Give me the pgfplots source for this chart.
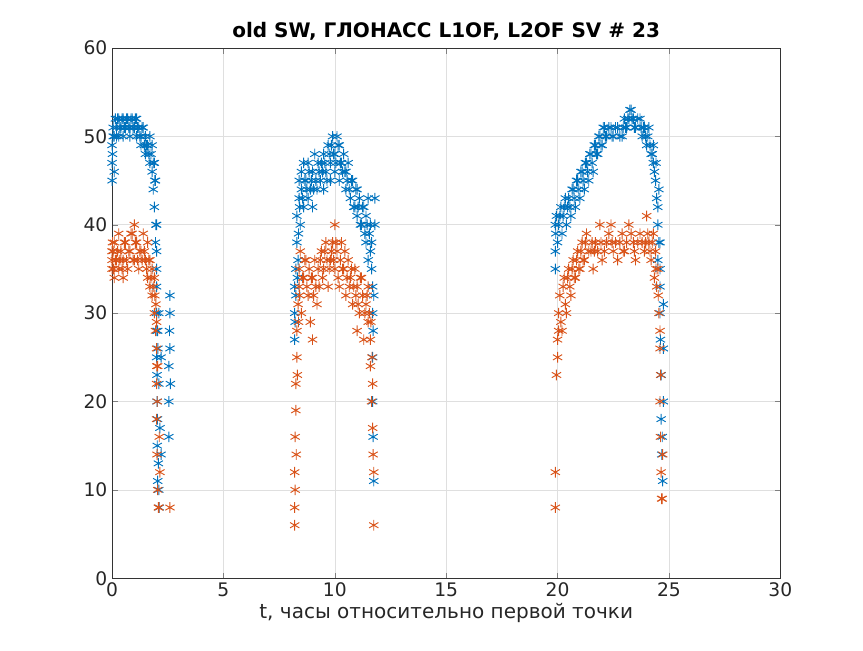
\documentclass[border=0pt]{standalone}
\usepackage{pgfplots}
\pgfplotsset{compat=1.18}
\usepackage{fontspec}
\setmainfont{DejaVu Sans}
\definecolor{mblue}{RGB}{0,114,189}
\definecolor{morange}{RGB}{217,83,25}
\pgfplotstableread{
x y
0.0 45
0.0 47
0.0 49
0.02 48
0.05 50
0.05 51
0.1 46
0.1 50
0.15 52
0.2 50
0.2 51
0.25 52
0.3 52
0.3 50
0.35 51
0.4 51
0.45 52
0.5 52
0.5 50
0.55 51
0.6 51
0.65 52
0.7 52
0.75 51
0.8 50
0.8 51
0.85 52
0.9 52
0.95 51
1.0 51
1.05 52
1.1 52
1.1 50
1.15 51
1.2 51
1.25 50
1.3 49
1.3 50
1.35 51
1.4 51
1.45 49
1.5 48
1.5 50
1.55 49
1.6 49
1.65 48
1.7 47
1.7 50
1.75 48
1.8 46
1.8 49
1.85 44
1.85 47
1.9 42
1.9 47
1.92 45
1.95 38
1.95 45
1.97 40
2.0 35
2.0 30
2.0 40
2.0 25
2.0 33
2.0 37
2.01 28
2.02 20
2.02 23
2.03 15
2.04 18
2.05 11
2.05 28
2.06 26
2.08 13
2.1 10
2.1 22
2.1 30
2.12 8
2.15 17
2.2 14
2.2 25
2.55 16
2.55 20
2.55 24
2.58 28
2.6 32
2.6 30
2.6 26
2.62 22
8.2 27
8.2 30
8.2 33
8.22 29
8.25 35
8.25 32
8.3 38
8.3 41
8.32 34
8.35 36
8.37 39
8.4 43
8.4 45
8.42 42
8.45 40
8.5 44
8.5 46
8.55 43
8.6 42
8.6 47
8.65 45
8.7 45
8.75 44
8.8 43
8.8 47
8.85 46
8.9 44
8.95 45
9.0 42
9.0 46
9.05 44
9.1 48
9.15 45
9.2 44
9.25 47
9.3 46
9.35 45
9.4 47
9.45 46
9.5 44
9.5 48
9.55 47
9.6 46
9.65 45
9.7 49
9.75 48
9.8 45
9.8 47
9.85 49
9.9 50
9.95 48
10.0 46
10.0 48
10.05 47
10.1 50
10.15 49
10.2 45
10.2 49
10.25 47
10.3 47
10.35 46
10.4 48
10.45 46
10.5 44
10.5 46
10.55 45
10.6 47
10.65 44
10.7 43
10.75 45
10.8 45
10.85 42
10.9 42
10.95 44
11.0 44
11.0 41
11.05 42
11.1 43
11.15 40
11.2 40
11.25 42
11.3 42
11.35 39
11.4 38
11.4 41
11.45 40
11.5 36
11.5 43
11.55 39
11.6 37
11.6 40
11.65 35
11.65 38
11.7 30
11.7 25
11.7 20
11.7 33
11.72 16
11.72 28
11.75 11
11.75 32
11.8 40
11.8 43
19.9 35
19.9 37
19.9 40
19.92 39
19.95 41
20.0 38
20.05 40
20.1 41
20.15 42
20.2 39
20.25 41
20.3 42
20.35 43
20.4 40
20.45 42
20.5 43
20.55 42
20.6 41
20.65 44
20.7 44
20.75 43
20.8 42
20.85 45
20.9 45
20.95 44
21.0 43
21.05 46
21.1 46
21.15 45
21.2 44
21.25 47
21.3 47
21.35 46
21.4 45
21.45 48
21.5 48
21.55 47
21.6 46
21.65 49
21.7 49
21.75 48
21.8 48
21.85 50
21.9 50
21.95 49
22.0 49
22.05 51
22.1 51
22.15 50
22.2 50
22.3 51
22.4 51
22.45 50
22.5 50
22.6 51
22.7 51
22.8 50
22.9 50
22.95 51
23.0 52
23.05 51
23.1 51
23.15 52
23.2 52
23.25 53
23.3 53
23.35 52
23.4 52
23.45 51
23.5 51
23.6 52
23.7 52
23.75 51
23.8 50
23.85 51
23.9 51
23.95 50
24.0 49
24.05 50
24.1 51
24.15 49
24.2 48
24.25 48
24.3 47
24.3 49
24.35 46
24.4 45
24.42 47
24.45 43
24.5 40
24.5 36
24.5 42
24.55 44
24.55 38
24.6 38
24.6 33
24.6 30
24.6 35
24.62 27
24.65 23
24.65 18
24.68 14
24.7 16
24.72 11
24.75 20
24.75 26
24.75 31
}\tblue
\pgfplotstableread{
x y
0.0 35
0.0 36
0.0 37
0.02 38
0.05 37
0.07 35
0.1 34
0.1 38
0.15 36
0.2 36
0.25 37
0.3 35
0.3 39
0.35 36
0.4 37
0.45 35
0.5 34
0.5 36
0.55 38
0.6 38
0.65 36
0.7 35
0.75 37
0.8 37
0.85 39
0.9 39
0.95 36
1.0 40
1.0 36
1.05 38
1.1 38
1.15 36
1.2 35
1.25 37
1.3 37
1.35 36
1.4 39
1.45 37
1.5 36
1.55 35
1.6 34
1.6 38
1.65 36
1.7 33
1.7 36
1.75 34
1.8 32
1.8 35
1.85 33
1.9 30
1.9 34
1.92 32
1.95 28
1.97 31
2.0 26
2.0 22
2.0 18
2.0 29
2.01 24
2.02 14
2.03 20
2.05 10
2.05 24
2.08 8
2.1 8
2.12 16
2.15 12
2.6 8
8.2 6
8.2 8
8.2 12
8.22 16
8.22 10
8.25 19
8.25 22
8.27 14
8.3 25
8.3 28
8.32 23
8.35 31
8.37 29
8.4 33
8.4 35
8.42 32
8.45 37
8.5 30
8.55 34
8.6 34
8.65 36
8.7 36
8.75 33
8.8 32
8.85 35
8.9 29
8.95 34
9.0 27
9.0 34
9.05 32
9.1 36
9.15 33
9.2 31
9.25 35
9.3 33
9.35 36
9.4 37
9.45 34
9.5 35
9.55 37
9.6 38
9.65 36
9.7 33
9.75 35
9.8 36
9.85 37
9.9 38
9.95 36
10.0 40
10.0 35
10.05 38
10.1 37
10.15 34
10.2 33
10.25 36
10.3 38
10.35 35
10.4 35
10.45 37
10.5 32
10.55 34
10.6 36
10.65 33
10.7 34
10.75 35
10.8 31
10.85 33
10.9 35
10.95 32
11.0 28
11.0 33
11.05 31
11.1 30
11.15 34
11.2 34
11.25 32
11.3 27
11.35 30
11.4 31
11.45 32
11.5 29
11.5 33
11.55 30
11.6 24
11.6 27
11.62 29
11.65 20
11.67 25
11.7 17
11.7 22
11.72 14
11.75 12
11.75 6
19.9 8
19.9 12
19.95 23
20.0 25
20.0 27
20.05 30
20.05 28
20.1 32
20.15 29
20.2 28
20.25 33
20.3 34
20.35 31
20.4 30
20.45 34
20.5 35
20.55 33
20.6 32
20.65 35
20.7 36
20.75 34
20.8 34
20.85 36
20.9 37
20.95 35
21.0 35
21.05 37
21.1 38
21.15 36
21.2 36
21.25 38
21.3 39
21.4 37
21.5 37
21.55 38
21.6 35
21.65 37
21.7 38
21.8 37
21.9 40
21.95 38
22.0 36
22.1 37
22.2 38
22.3 39
22.4 40
22.45 38
22.5 37
22.6 38
22.7 36
22.8 38
22.9 39
22.95 37
23.0 37
23.1 38
23.2 40
23.3 39
23.4 38
23.45 37
23.5 36
23.6 38
23.7 39
23.8 38
23.9 37
23.95 38
24.0 41
24.05 39
24.1 38
24.15 37
24.2 36
24.25 38
24.3 39
24.35 34
24.4 37
24.42 35
24.45 33
24.5 35
24.52 32
24.55 30
24.6 26
24.6 20
24.6 28
24.62 16
24.63 23
24.65 12
24.67 9
24.7 9
24.72 14
}\torange
\begin{document}
\begin{tikzpicture}
\path[use as bounding box] (-84pt,-54pt) rectangle (563pt,433.5pt);
\begin{axis}[
  at={(0,0)}, anchor=south west,
  scale only axis, width=501pt, height=397.5pt,
  xmin=0, xmax=30, ymin=0, ymax=60,
  xtick={0,5,...,30}, ytick={0,10,...,60},
  grid=major, major grid style={gray!25},
  tick align=inside, axis line style={black!80},
  tick label style={font=\fontsize{14}{16}\selectfont, text=black!85},
  /pgf/number format/assume math mode=true,
  title={\textbf{old SW, ГЛОНАСС L1OF, L2OF SV \# 23}},
  title style={font=\fontsize{15}{17}\selectfont, yshift=-4pt},
  xlabel={t, часы относительно первой точки},
  xlabel style={font=\fontsize{15}{17}\selectfont, text=black!85, yshift=2pt},
]
\addplot[only marks, mark=asterisk, mark size=4pt, line width=0.7pt, color=mblue] table {\tblue};
\addplot[only marks, mark=asterisk, mark size=4pt, line width=0.7pt, color=morange] table {\torange};
\end{axis}
\end{tikzpicture}
\end{document}
